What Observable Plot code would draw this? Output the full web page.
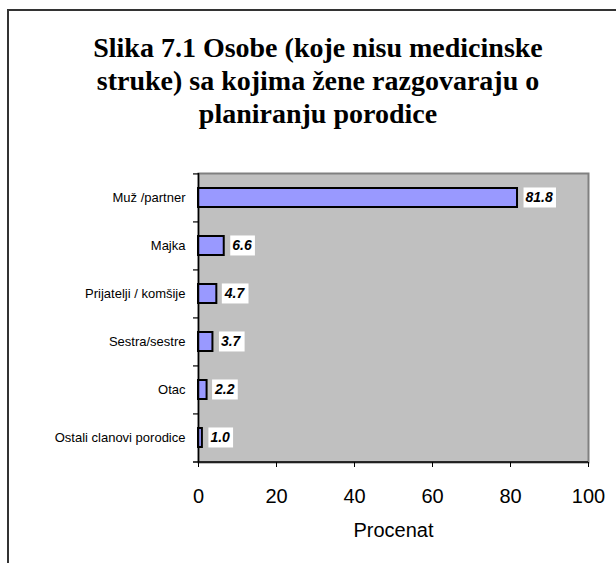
<!DOCTYPE html>
<html>
<head>
<meta charset="utf-8">
<script src="https://cdn.jsdelivr.net/npm/d3@7"></script>
<script src="https://cdn.jsdelivr.net/npm/@observablehq/plot@0.6"></script>
<style>
  html, body { margin: 0; padding: 0; background: white; overflow: hidden; }
  #wrap { position: relative; width: 616px; height: 563px; }
  #border { position: absolute; left: 7px; top: 9px; width: 640px; height: 600px;
            border-top: 2px solid #333; border-left: 2px solid #333; }
  #title { position: absolute; left: 8px; top: 31px; width: 620px; text-align: center;
           font-family: "Liberation Serif", "Times New Roman", serif; font-weight: bold;
           font-size: 28px; line-height: 33px; color: #000; }
  #chart { position: absolute; left: 0; top: 160px; }
</style>
</head>
<body>
<div id="wrap">
  <div id="border"></div>
  <div id="title">Slika 7.1 Osobe (koje nisu medicinske<br>struke) sa kojima žene razgovaraju o<br>planiranju porodice</div>
  <div id="chart"></div>
</div>
<script>
const categories = ["Muž /partner", "Majka", "Prijatelji / komšije", "Sestra/sestre", "Otac", "Ostali clanovi porodice"];
const values = [81.8, 6.6, 4.7, 3.7, 2.2, 1.0];
const xTicks = [0, 20, 40, 60, 80, 100];
const xLabel = "Procenat";

const data = categories.map((c, i) => ({category: c, value: values[i]}));

const W = 616, H = 403, MT = 13, MB = 101, ML = 198, MR = 28;
const step = (H - MT - MB) / categories.length;

const plot = Plot.plot({
  width: W, height: H,
  marginTop: MT, marginBottom: MB, marginLeft: ML, marginRight: MR,
  style: {background: "transparent", fontFamily: "'Liberation Sans', Arial, sans-serif", fontSize: "13px", color: "black"},
  x: {domain: [0, 100]},
  y: {domain: categories, paddingInner: 0.6, paddingOuter: 0.3},
  marks: [
    Plot.frame({fill: "#c0c0c0", stroke: "#808080", strokeWidth: 2}),
    Plot.barX(data, {y: "category", x: "value", fill: "#9999ff", stroke: "black", strokeWidth: 2}),
    Plot.ruleX([0], {stroke: "black", strokeWidth: 1.5}),
    Plot.ruleY(categories, {y: d => d, x1: 0, x2: 0, insetLeft: -5, dy: -step / 2, stroke: "black", strokeWidth: 1.2}),
    Plot.ruleY([categories[categories.length - 1]], {y: d => d, insetLeft: -5, dy: step / 2, stroke: "black", strokeWidth: 1.5}),
    Plot.axisY({tickSize: 0, tickPadding: 13, label: null, fontSize: 13}),
    Plot.axisX({ticks: xTicks, tickSize: 5, tickPadding: 21, fontSize: 20, label: null, stroke: "black"}),
    Plot.text([xLabel], {frameAnchor: "bottom", lineAnchor: "middle", dy: 68, fontSize: 20}),
    Plot.text(data, {y: "category", x: "value", text: d => d.value.toFixed(1), textAnchor: "start", dx: 8,
      fontWeight: "bold", fontStyle: "italic", fontSize: 14})
  ]
});
document.getElementById("chart").appendChild(plot);

// white boxes behind value labels
plot.querySelectorAll('g[font-style="italic"] text').forEach(t => {
  const b = t.getBBox();
  const r = document.createElementNS("http://www.w3.org/2000/svg", "rect");
  r.setAttribute("x", b.x - 2);
  r.setAttribute("y", b.y + b.height / 2 - 10);
  r.setAttribute("width", b.width + 5);
  r.setAttribute("height", 20);
  r.setAttribute("fill", "white");
  const tr = t.getAttribute("transform");
  if (tr) r.setAttribute("transform", tr);
  t.parentNode.insertBefore(r, t);
});
</script>
</body>
</html>
